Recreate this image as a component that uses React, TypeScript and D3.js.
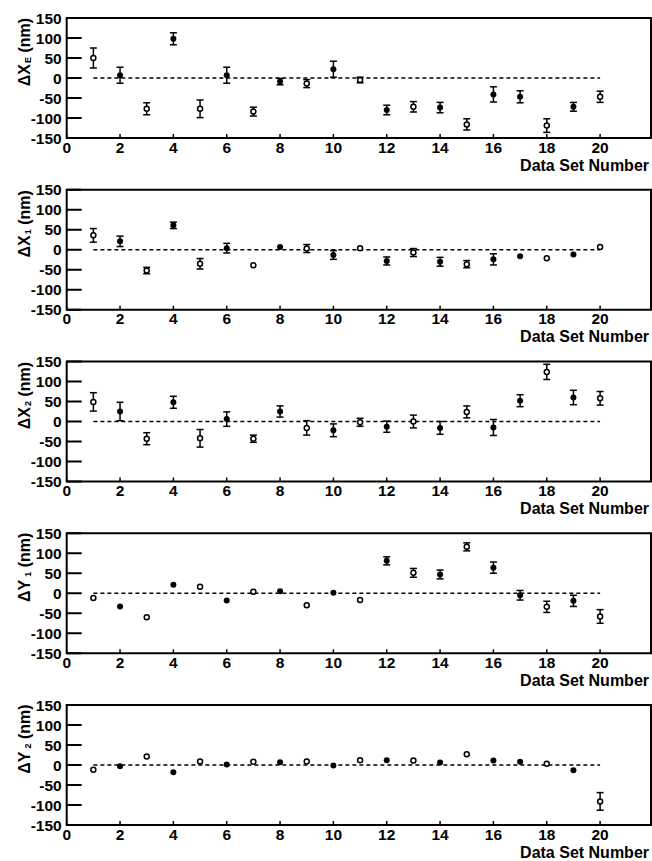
import React from "react";
import * as d3 from "d3";

// Data set numbers and marker style (open circle vs filled dot)
const setNumbers = [1, 2, 3, 4, 5, 6, 7, 8, 9, 10, 11, 12, 13, 14, 15, 16, 17, 18, 19, 20];
const openMarker = [true, false, true, false, true, false, true, false, true, false, true, false, true, false, true, false, false, true, false, true];

// Deviations (nm) and their error half-widths (nm); 0 means no bar drawn
const dXE = [50, 7, -77, 98, -77, 7, -84, -9, -14, 22, -5, -80, -72, -74, -116, -41, -47, -119, -72, -47];
const dXEerr = [25, 20, 15, 15, 22, 20, 11, 8, 10, 20, 7, 12, 13, 13, 14, 19, 15, 17, 11, 14];

const dX1 = [36, 21, -52, 61, -35, 4, -39, 7, 3, -13, 4, -28, -7, -30, -36, -24, -16, -21, -12, 7];
const dX1err = [17, 13, 8, 8, 13, 12, 0, 0, 10, 11, 0, 10, 10, 11, 9, 14, 0, 0, 0, 0];

const dX2 = [49, 25, -43, 48, -42, 6, -43, 25, -16, -22, -2, -13, 0, -16, 24, -15, 52, 124, 60, 58];
const dX2err = [23, 23, 15, 15, 22, 18, 9, 14, 18, 16, 10, 14, 16, 16, 15, 20, 15, 19, 18, 17];

const dY1 = [-12, -33, -60, 21, 16, -18, 4, 5, -30, 1, -17, 81, 51, 47, 116, 64, -5, -34, -19, -58];
const dY1err = [0, 0, 0, 0, 0, 0, 0, 0, 0, 0, 0, 10, 11, 11, 10, 14, 12, 14, 14, 17];

const dY2 = [-12, -3, 21, -18, 9, 1, 8, 7, 9, -1, 12, 12, 11, 6, 27, 11, 8, 3, -13, -91];
const dY2err = [0, 0, 0, 0, 0, 0, 0, 0, 0, 0, 0, 0, 0, 0, 0, 0, 0, 0, 0, 22];

const yTicks = [150, 100, 50, 0, -50, -100, -150];
const xTicks = [0, 2, 4, 6, 8, 10, 12, 14, 16, 18, 20];
const xTitle = "Data Set Number";

const panels = [
  { letter: "X", sub: "E", values: dXE, errors: dXEerr },
  { letter: "X", sub: "1", values: dX1, errors: dX1err },
  { letter: "X", sub: "2", values: dX2, errors: dX2err },
  { letter: "Y", sub: "1", values: dY1, errors: dY1err },
  { letter: "Y", sub: "2", values: dY2, errors: dY2err },
];

const W = 652;
const H = 861;
const left = 66.7;
const unit = 26.67;
const frameRight = 651;
const firstTop = 18;
const panelStep = 171.75;
const panelH = 120;
const FONT = "'Liberation Sans', Arial, Helvetica, sans-serif";

function Panel({ p, top }: { p: (typeof panels)[number]; top: number }) {
  const x = d3.scaleLinear().domain([0, 22]).range([left, left + 22 * unit]);
  const y = d3.scaleLinear().domain([-150, 150]).range([top + panelH, top]);
  const bottom = top + panelH;
  const capHalf = 3.5;

  return (
    <g>
      {/* frame */}
      <rect x={left} y={top} width={frameRight - left} height={panelH} fill="none" stroke="#000" strokeWidth={2} />
      {/* y ticks (inward) and labels */}
      {yTicks.map((t) => (
        <g key={"y" + t}>
          <line x1={left} x2={left + 15} y1={y(t)} y2={y(t)} stroke="#000" strokeWidth={2} />
          <text x={left - 5} y={y(t)} dy="0.36em" textAnchor="end" fontFamily={FONT} fontWeight="bold" fontSize={15.5}>
            {t}
          </text>
        </g>
      ))}
      {/* x ticks and labels */}
      {xTicks.map((t) => (
        <g key={"x" + t}>
          <line x1={x(t)} x2={x(t)} y1={bottom} y2={bottom - 4} stroke="#000" strokeWidth={1.5} />
          <text x={x(t)} y={bottom + 14.6} textAnchor="middle" fontFamily={FONT} fontWeight="bold" fontSize={15.5}>
            {t}
          </text>
        </g>
      ))}
      <text x={649} y={bottom + 32.5} textAnchor="end" fontFamily={FONT} fontWeight="bold" fontSize={16}>
        {xTitle}
      </text>
      {/* y title */}
      <text
        transform={`translate(30,${top + 34}) rotate(-90)`}
        textAnchor="middle"
        fontFamily={FONT}
        fontWeight="bold"
        fontSize={16}
      >
        <tspan>{"Δ" + p.letter}</tspan>
        <tspan fontSize={9} dx={p.letter === "Y" ? 3 : 1} dy={1}>
          {p.sub}
        </tspan>
        <tspan dy={-1}>{" (nm)"}</tspan>
      </text>
      {/* zero reference */}
      <line x1={x(1)} x2={x(20)} y1={y(0)} y2={y(0)} stroke="#000" strokeWidth={1.5} strokeDasharray="4,3" />
      {/* error bars */}
      {setNumbers.map((n, i) =>
        p.errors[i] > 0 ? (
          <g key={"e" + n} stroke="#000" strokeWidth={1.5}>
            <line x1={x(n)} x2={x(n)} y1={y(p.values[i] - p.errors[i])} y2={y(p.values[i] + p.errors[i])} />
            <line x1={x(n) - capHalf} x2={x(n) + capHalf} y1={y(p.values[i] + p.errors[i])} y2={y(p.values[i] + p.errors[i])} />
            <line x1={x(n) - capHalf} x2={x(n) + capHalf} y1={y(p.values[i] - p.errors[i])} y2={y(p.values[i] - p.errors[i])} />
          </g>
        ) : null
      )}
      {/* markers */}
      {setNumbers.map((n, i) =>
        openMarker[i] ? (
          <circle key={"m" + n} cx={x(n)} cy={y(p.values[i])} r={2.5} fill="#fff" stroke="#000" strokeWidth={1.5} />
        ) : (
          <circle key={"m" + n} cx={x(n)} cy={y(p.values[i])} r={3} fill="#000" />
        )
      )}
    </g>
  );
}

export default function App() {
  return (
    <svg
      width={W}
      height={H}
      viewBox={`0 0 ${W} ${H}`}
      style={{ position: "absolute", left: 0, top: 0, background: "#fff" }}
    >
      <rect x={0} y={0} width={W} height={H} fill="#fff" />
      {panels.map((p, i) => (
        <Panel key={i} p={p} top={firstTop + i * panelStep} />
      ))}
    </svg>
  );
}
